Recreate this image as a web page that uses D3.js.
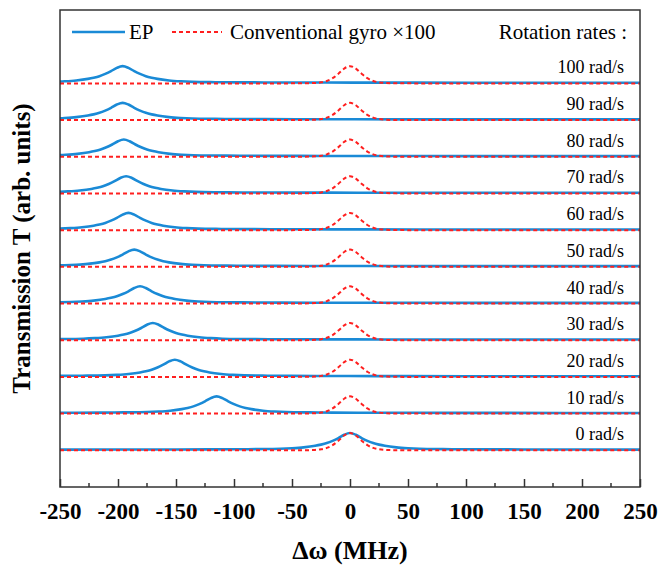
<!DOCTYPE html>
<html>
<head>
<meta charset="utf-8">
<script src="https://cdn.jsdelivr.net/npm/d3@7"></script>
<style>
  body { margin: 0; background: #fff; }
  svg text { font-family: "Times New Roman", "Liberation Serif", Times, serif; fill: #000; }
  .tick-label { font-size: 23px; font-weight: bold; }
  .title { font-weight: bold; }
  .legend { font-size: 21px; }
  .rate { font-size: 18px; }
</style>
</head>
<body>
<svg id="chart"></svg>
<script>
// rotation rates and where the EP peak sits for each (MHz)
var rates = [0, 10, 20, 30, 40, 50, 60, 70, 80, 90, 100];
var epCenters = [0, -115, -151, -170, -181, -186, -191, -193, -195, -196, -196];

// EP line shape, offset from its peak (MHz) -> relative height
var epOffsets = [-450, -300, -200, -150, -100, -80, -60, -50, -40, -30, -25, -20, -15, -10, -5, 0,
                 5, 10, 15, 20, 25, 30, 40, 50, 60, 80, 100, 150, 200, 300, 450];
var epShape = [0.04, 0.04, 0.045, 0.05, 0.06, 0.07, 0.09, 0.12, 0.17, 0.26, 0.33, 0.42, 0.55, 0.71, 0.9, 1,
               0.9, 0.71, 0.55, 0.42, 0.33, 0.26, 0.17, 0.12, 0.09, 0.07, 0.06, 0.05, 0.045, 0.04, 0.04];

// conventional gyro (x100) line, always centred at 0 MHz
var convOffsets = [-250, -60, -40, -30, -25, -20, -15, -10, -5, 0, 5, 10, 15, 20, 25, 30, 40, 60, 250];
var convShape = [0, 0, 0.005, 0.025, 0.06, 0.14, 0.3, 0.56, 0.86, 1, 0.86, 0.56, 0.3, 0.14, 0.06, 0.025, 0.005, 0, 0];

var xTicks = [-250, -200, -150, -100, -50, 0, 50, 100, 150, 200, 250];
var xMinor = [-225, -175, -125, -75, -25, 25, 75, 125, 175, 225];

var width = 661, height = 569;
var margin = {top: 10, right: 21, bottom: 82, left: 60};
var w = width - margin.left - margin.right;
var h = height - margin.top - margin.bottom;
var epPeak = 0.47, convPeak = 0.47;
var blue = "#1a8ad6", red = "#ff1f1f";
var serif = "'Times New Roman', 'Liberation Serif', Times, serif";

var svg = d3.select("#chart").attr("width", width).attr("height", height);
var chart = svg.append("g").attr("transform", "translate(" + margin.left + "," + margin.top + ")");

var x = d3.scaleLinear().domain([-250, 250]).range([0, w]);
var y = d3.scaleLinear().domain([-1, 12]).range([h, 0]);

chart.append("clipPath").attr("id", "plot-clip")
    .append("rect").attr("width", w).attr("height", h);

var line = d3.line()
    .x(function(d) { return x(d[0]); })
    .y(function(d) { return y(d[1]); })
    .curve(d3.curveMonotoneX);

var curves = chart.append("g").attr("clip-path", "url(#plot-clip)");

rates.forEach(function(r, i) {
    var ep = epOffsets.map(function(o, j) { return [epCenters[i] + o, i + epPeak * epShape[j]]; });
    var conv = convOffsets.map(function(o, j) { return [o, i + convPeak * convShape[j]]; });

    curves.append("path")
        .datum(ep)
        .attr("fill", "none")
        .attr("stroke", blue)
        .attr("stroke-width", 2.6)
        .attr("d", line);

    curves.append("path")
        .datum(conv)
        .attr("fill", "none")
        .attr("stroke", red)
        .attr("stroke-width", 2)
        .attr("stroke-dasharray", "4,3")
        .attr("d", line);

    chart.append("text")
        .attr("class", "rate")
        .attr("x", 564)
        .attr("y", y(i) - 10)
        .style("font-family", serif)
        .style("text-anchor", "end")
        .text(r + " rad/s");
});

// frame
chart.append("rect")
    .attr("width", w)
    .attr("height", h)
    .attr("fill", "none")
    .attr("stroke", "#333")
    .attr("stroke-width", 1.5);

// bottom axis, ticks point inward
var xAxis = d3.axisBottom(x)
    .tickValues(xTicks)
    .tickFormat(function(d) { return String(d); })
    .tickSizeInner(-8)
    .tickSizeOuter(0)
    .tickPadding(16);
var gx = chart.append("g")
    .attr("transform", "translate(0," + h + ")")
    .call(xAxis);
gx.select(".domain").remove();
gx.selectAll(".tick line").attr("stroke", "#333").attr("stroke-width", 1.5);
gx.selectAll(".tick text")
    .attr("class", "tick-label")
    .attr("fill", "#000")
    .style("font-family", serif);

chart.append("g").selectAll("line")
    .data(xMinor)
    .enter().append("line")
    .attr("x1", function(d) { return x(d); })
    .attr("x2", function(d) { return x(d); })
    .attr("y1", h)
    .attr("y2", h - 4)
    .attr("stroke", "#333")
    .attr("stroke-width", 1.5);

// axis titles
svg.append("text")
    .attr("class", "title")
    .attr("x", margin.left + w / 2)
    .attr("y", 559)
    .style("font-family", serif)
    .style("font-size", "26px")
    .style("text-anchor", "middle")
    .text("Δω (MHz)");

svg.append("text")
    .attr("class", "title")
    .attr("transform", "translate(30," + (margin.top + h / 2) + ") rotate(-90)")
    .style("font-family", serif)
    .style("font-size", "25px")
    .style("text-anchor", "middle")
    .text("Transmission T (arb. units)");

// legend
var lg = chart.append("g").style("font-family", serif);
lg.append("line")
    .attr("x1", 12).attr("x2", 65).attr("y1", 22).attr("y2", 22)
    .attr("stroke", blue).attr("stroke-width", 2.6);
lg.append("text").attr("class", "legend").attr("x", 69).attr("y", 29).text("EP");
lg.append("line")
    .attr("x1", 112).attr("x2", 162).attr("y1", 22).attr("y2", 22)
    .attr("stroke", red).attr("stroke-width", 2).attr("stroke-dasharray", "4,3");
lg.append("text").attr("class", "legend").attr("x", 170).attr("y", 29).text("Conventional gyro ×100");
lg.append("text").attr("class", "legend").attr("x", 567).attr("y", 29)
    .style("text-anchor", "end").text("Rotation rates :");
</script>
</body>
</html>
